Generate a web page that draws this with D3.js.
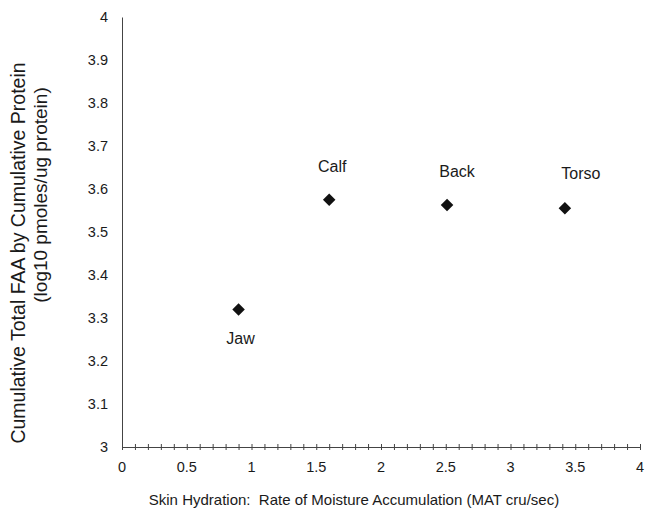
<!DOCTYPE html>
<html>
<head>
<meta charset="utf-8">
<script src="https://cdn.jsdelivr.net/npm/d3@7"></script>
<style>
  html, body { margin: 0; padding: 0; background: #fff; }
  svg text { font-family: "Liberation Sans", Arial, sans-serif; fill: #1a1a1a; }
</style>
</head>
<body>
<svg id="chart" width="646" height="515"></svg>
<script>
// Body sites and their measurements
const sites = ["Jaw", "Calf", "Back", "Torso"];
const hydration = [0.9, 1.6, 2.51, 3.42];       // MAT cru/sec
const faa = [3.32, 3.575, 3.563, 3.555];        // log10 pmoles/ug protein
const xTickLabels = [0, 0.5, 1, 1.5, 2, 2.5, 3, 3.5, 4];
const yTickLabels = [3, 3.1, 3.2, 3.3, 3.4, 3.5, 3.6, 3.7, 3.8, 3.9, 4];
const labelOffsets = [[2, 30], [3, -33], [10, -33], [16, -34]];

const svg = d3.select("#chart");
const x = d3.scaleLinear().domain([0, 4]).range([122, 640]);
const y = d3.scaleLinear().domain([3, 4]).range([447, 17]);

// Y axis: line with labels only
const yAxis = svg.append("g").attr("transform", `translate(${x(0)},0)`)
  .call(d3.axisLeft(y).tickValues(yTickLabels).tickSize(0).tickPadding(14)
    .tickFormat(d => d3.format("")(d)));
yAxis.select(".domain").attr("stroke", "#444").attr("stroke-width", 1);
yAxis.selectAll("text").attr("font-size", 14.5);

// X axis: minor ticks every 0.1 crossing the line
const minor = d3.range(0, 41).map(i => i / 10);
const xAxis = svg.append("g").attr("transform", `translate(0,${y(3)})`)
  .call(d3.axisBottom(x).tickValues(minor).tickSize(4).tickSizeOuter(0).tickFormat(""));
xAxis.select(".domain").attr("stroke", "#444").attr("stroke-width", 1);
xAxis.selectAll(".tick line").attr("y1", -3).attr("y2", 3).attr("stroke", "#444");

svg.append("g").selectAll("text").data(xTickLabels).join("text")
  .attr("x", d => x(d)).attr("y", 472)
  .attr("text-anchor", "middle").attr("font-size", 14.5)
  .text(d => d);

// Points
const pts = sites.map((s, i) => ({ site: s, hx: hydration[i], fy: faa[i], off: labelOffsets[i] }));
svg.append("g").selectAll("path").data(pts).join("path")
  .attr("transform", d => `translate(${x(d.hx)},${y(d.fy)})`)
  .attr("d", d3.symbol(d3.symbolDiamond2, 100)())
  .attr("fill", "#111");

svg.append("g").selectAll("text").data(pts).join("text")
  .attr("x", d => x(d.hx) + d.off[0]).attr("y", d => y(d.fy) + d.off[1] + 5)
  .attr("text-anchor", "middle").attr("font-size", 16)
  .text(d => d.site);

// Axis titles
svg.append("text")
  .attr("transform", "translate(25,253) rotate(-90)")
  .attr("text-anchor", "middle").attr("font-size", 19.5)
  .text("Cumulative Total FAA by Cumulative Protein");
svg.append("text")
  .attr("transform", "translate(47,195) rotate(-90)")
  .attr("text-anchor", "middle").attr("font-size", 19)
  .text("(log10 pmoles/ug protein)");

svg.append("text")
  .attr("x", 354).attr("y", 505)
  .attr("text-anchor", "middle").attr("font-size", 15)
  .attr("xml:space", "preserve")
  .text("Skin Hydration:  Rate of Moisture Accumulation (MAT cru/sec)");
</script>
</body>
</html>
